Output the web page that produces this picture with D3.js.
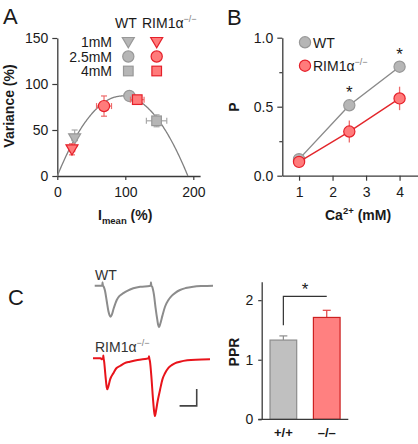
<!DOCTYPE html>
<html><head><meta charset="utf-8">
<script src="https://cdn.jsdelivr.net/npm/d3@7"></script>
<style>
html,body{margin:0;padding:0;background:#fff;}
svg{display:block;font-family:"Liberation Sans",Arial,sans-serif;}
</style></head>
<body>
<svg id="c" width="418" height="444"></svg>
<script>
// ---------- Panel A data ----------
const concLabels = ["1mM", "2.5mM", "4mM"];
const markerShapes = ["triangle", "circle", "square"];
const wtMean = [25.5, 106, 146];
const wtMeanErr = [4, 4, 15];
const wtVar = [41, 87, 60];
const wtVarErr = [9, 3, 6.5];
const rimMean = [21.6, 68.7, 117.6];
const rimMeanErr = [4, 11, 10];
const rimVar = [29, 76, 83];
const rimVarErr = [6, 11, 3];
const fitSlope = 1.8125;      // parabola fit V = a*I - b*I^2
const fitCurv = 0.00944;
const fitMaxI = 192;
const xTicksA = [0, 100, 200];
const yTicksA = [0, 50, 100, 150];

// ---------- Panel B data ----------
const caConc = [1, 2.5, 4];
const wtP = [0.12, 0.51, 0.79];
const wtPErr = [0.02, 0.02, 0.02];
const rimP = [0.10, 0.32, 0.56];
const rimPErr = [0.02, 0.08, 0.085];
const sigB = [false, true, true];
const xTicksB = [1, 2, 3, 4];
const yTicksB = [0, 0.5, 1.0];
const yMinorB = [0.25, 0.75];

// ---------- Panel C data ----------
const genotypes = ["+/+", "–/–"];
const pprMean = [1.33, 1.71];
const pprErr = [0.07, 0.12];
const yTicksC = [0, 1, 2];
// traces: [time ms, current pA]
const wtTrace = [[2,0],[10.8,0],[11.1,10],[11.6,0],[12.5,-3],[14,-15],[16,-45],[18,-75],[19.5,-88],[20.6,-91],[22,-85],[24,-68],[27.7,-42],[31,-30],[35.4,-22],[40,-15],[47,-7.6],[55,-3],[66,-1],[67.3,0],[67.6,10],[68.1,0],[69,-3],[71,-25],[73,-65],[75,-100],[76,-115],[77,-122],[78.5,-112],[81,-88],[84,-62],[88,-42],[91.8,-30],[96,-21],[101.5,-12.6],[108,-7],[117,-3],[128,-1],[140,0]];
const rimTrace = [[0,0],[9,0],[10,-3],[11,-1],[11.8,0],[12,8],[12.4,0],[13,-10],[14.5,-50],[16,-85],[16.7,-91],[18,-82],[20,-62],[23.7,-44],[27,-30],[31.5,-22.6],[37,-14],[43,-10],[52,-5],[62.7,-1],[65,0],[65.3,6],[65.7,0],[66.5,-10],[68,-50],[70,-120],[71.5,-160],[72.3,-170],[73.5,-155],[75.5,-125],[78.2,-93],[81,-62],[84,-44],[88,-28],[91.8,-20],[96,-14],[101.5,-10],[110,-6],[120,-4],[136.5,-3]];
const scaleBarMs = 20, scaleBarPA = 50;

// ---------- colors ----------
const grayFill = "#b6b6b6", grayStroke = "#989898", grayLine = "#8a8a8a", grayErr = "#a8a8a8";
const redFill = "#ff7b7b", redStroke = "#e5202a", redLine = "#e3262b", redErr = "#ee6a6a";
const axisCol = "#3a3a3a", textCol = "#1a1a1a";

const svg = d3.select("#c");
svg.append("rect").attr("width",418).attr("height",444).attr("fill","#fff");

function styleAxis(g){
  g.selectAll("path.domain").attr("stroke",axisCol).attr("stroke-width",1.3);
  g.selectAll(".tick line").attr("stroke",axisCol).attr("stroke-width",1.2);
  g.selectAll(".tick text").attr("fill",textCol).style("font-size","14px").style("font-family","Liberation Sans, Arial, sans-serif");
}
function marker(g, shape, x, y, fill, stroke){
  if(shape==="circle"){
    g.append("circle").attr("cx",x).attr("cy",y).attr("r",5.6).attr("fill",fill).attr("stroke",stroke).attr("stroke-width",1.2);
  } else if(shape==="square"){
    g.append("rect").attr("x",x-4.8).attr("y",y-4.8).attr("width",9.6).attr("height",9.6).attr("fill",fill).attr("stroke",stroke).attr("stroke-width",1.2);
  } else {
    const s=6;
    g.append("path").attr("d",`M${x-s},${y-s*0.75}L${x+s},${y-s*0.75}L${x},${y+s*0.95}Z`).attr("fill",fill).attr("stroke",stroke).attr("stroke-width",1.2);
  }
}
function errBarV(g,x,y0,y1,col,cap){
  g.append("line").attr("x1",x).attr("x2",x).attr("y1",y0).attr("y2",y1).attr("stroke",col).attr("stroke-width",1.2);
  g.append("line").attr("x1",x-cap).attr("x2",x+cap).attr("y1",y0).attr("y2",y0).attr("stroke",col).attr("stroke-width",1.2);
  g.append("line").attr("x1",x-cap).attr("x2",x+cap).attr("y1",y1).attr("y2",y1).attr("stroke",col).attr("stroke-width",1.2);
}
function errBarH(g,y,x0,x1,col,cap){
  g.append("line").attr("y1",y).attr("y2",y).attr("x1",x0).attr("x2",x1).attr("stroke",col).attr("stroke-width",1.2);
  g.append("line").attr("y1",y-cap).attr("y2",y+cap).attr("x1",x0).attr("x2",x0).attr("stroke",col).attr("stroke-width",1.2);
  g.append("line").attr("y1",y-cap).attr("y2",y+cap).attr("x1",x1).attr("x2",x1).attr("stroke",col).attr("stroke-width",1.2);
}
function rimLabel(g,x,y,size){
  const t=g.append("text").attr("x",x).attr("y",y).attr("fill",textCol).style("font-size",size+"px");
  t.append("tspan").text("RIM1α");
  t.append("tspan").attr("dy",-6).style("font-size","9px").attr("fill","#777").text("−/−");
  return t;
}

// ================= Panel A =================
const gA = svg.append("g");
const xA = d3.scaleLinear().domain([0,210]).range([57.3,200.1]);
const yA = d3.scaleLinear().domain([0,150]).range([176,38]);
gA.append("g").attr("transform","translate(0,176)")
  .call(d3.axisBottom(xA).tickValues(xTicksA).tickFormat(d3.format("d")).tickSize(4).tickSizeOuter(0).tickPadding(7)).call(styleAxis);
gA.append("g").attr("transform","translate(57.3,0)")
  .call(d3.axisLeft(yA).tickValues(yTicksA).tickFormat(d3.format("d")).tickSize(5).tickSizeOuter(0).tickPadding(4)).call(styleAxis);

// fit curve
const fitI = d3.range(0, fitMaxI+0.5, 1);
gA.append("path").datum(fitI)
  .attr("d", d3.line().x(i=>xA(i)).y(i=>yA(Math.max(0,fitSlope*i - fitCurv*i*i))))
  .attr("fill","none").attr("stroke","#808080").attr("stroke-width",1.3);

function drawSeriesA(mean, meanErr, vr, vrErr, fill, stroke, errCol){
  mean.forEach((m,k)=>{
    errBarV(gA, xA(m), yA(vr[k]-vrErr[k]), yA(vr[k]+vrErr[k]), errCol, 3);
    errBarH(gA, yA(vr[k]), xA(m-meanErr[k]), xA(m+meanErr[k]), errCol, 3);
  });
  mean.forEach((m,k)=> marker(gA, markerShapes[k], xA(m), yA(vr[k]), fill, stroke));
}
drawSeriesA(wtMean, wtMeanErr, wtVar, wtVarErr, grayFill, grayStroke, grayErr);
drawSeriesA(rimMean, rimMeanErr, rimVar, rimVarErr, redFill, redStroke, redErr);

// legend A
gA.append("text").attr("x",115).attr("y",28).attr("fill",textCol).style("font-size","14px").text("WT");
rimLabel(gA,142,28,14);
concLabels.forEach((c,k)=>{
  const y = 42 + k*14.5;
  gA.append("text").attr("x",112).attr("y",y+5).attr("text-anchor","end").attr("fill",textCol).style("font-size","14px").text(c);
  marker(gA, markerShapes[k], 128.3, y, grayFill, grayStroke);
  marker(gA, markerShapes[k], 156.7, y, redFill, redStroke);
});
// axis titles
gA.append("text").attr("transform","translate(13.5,106) rotate(-90)").attr("text-anchor","middle")
  .attr("fill",textCol).style("font-size","14px").style("font-weight","bold").text("Variance (%)");
const tA = gA.append("text").attr("x",98).attr("y",220).attr("fill",textCol).style("font-size","14px").style("font-weight","bold");
tA.append("tspan").text("I");
tA.append("tspan").attr("dy",4).style("font-size","9.5px").text("mean");
tA.append("tspan").attr("dy",-4).text(" (%)");
svg.append("text").attr("x",3).attr("y",24).attr("fill",textCol).style("font-size","22px").text("A");

// ================= Panel B =================
const gB = svg.append("g");
const xB = d3.scaleLinear().domain([0.5,4.55]).range([282.3,418]);
const yB = d3.scaleLinear().domain([0,1]).range([175.7,37.7]);
gB.append("g").attr("transform","translate(0,175.7)")
  .call(d3.axisBottom(xB).tickValues(xTicksB).tickFormat(d3.format("d")).tickSize(5).tickSizeOuter(0).tickPadding(6)).call(styleAxis);
gB.append("g").attr("transform","translate(282.3,0)")
  .call(d3.axisLeft(yB).tickValues(yTicksB).tickFormat(d3.format(".1f")).tickSize(5).tickSizeOuter(0).tickPadding(4)).call(styleAxis);
gB.append("g").attr("transform","translate(282.3,0)")
  .call(d3.axisLeft(yB).tickValues(yMinorB).tickFormat("").tickSize(3).tickSizeOuter(0)).call(styleAxis)
  .select("path.domain").remove();

function drawSeriesB(p, pErr, line, fill, stroke, errCol){
  gB.append("path").datum(caConc).attr("d", d3.line().x(c=>xB(c)).y((c,k)=>yB(p[k])))
    .attr("fill","none").attr("stroke",line).attr("stroke-width",1.4);
  caConc.forEach((c,k)=>{
    gB.append("line").attr("x1",xB(c)).attr("x2",xB(c)).attr("y1",yB(p[k]-pErr[k])).attr("y2",yB(p[k]+pErr[k]))
      .attr("stroke",errCol).attr("stroke-width",1.3);
  });
  caConc.forEach((c,k)=> marker(gB,"circle",xB(c),yB(p[k]),fill,stroke));
}
drawSeriesB(wtP, wtPErr, grayLine, grayFill, grayStroke, grayErr);
drawSeriesB(rimP, rimPErr, redLine, redFill, redStroke, redErr);
caConc.forEach((c,k)=>{
  if(sigB[k]) gB.append("text").attr("x",xB(c)).attr("y",yB(wtP[k])-7).attr("text-anchor","middle")
    .attr("fill",textCol).style("font-size","17px").text("*");
});
// legend B
marker(gB,"circle",305,42.3,grayFill,grayStroke);
gB.append("text").attr("x",313).attr("y",47.5).attr("fill",textCol).style("font-size","14px").text("WT");
marker(gB,"circle",305,65.7,redFill,redStroke);
rimLabel(gB,313,71,14);
gB.append("text").attr("transform","translate(238.5,107) rotate(-90)").attr("text-anchor","middle")
  .attr("fill",textCol).style("font-size","14px").style("font-weight","bold").text("P");
const tB = gB.append("text").attr("x",325).attr("y",220).attr("fill",textCol).style("font-size","14px").style("font-weight","bold");
tB.append("tspan").text("Ca");
tB.append("tspan").attr("dy",-6).style("font-size","9.5px").text("2+");
tB.append("tspan").attr("dy",6).text(" (mM)");
svg.append("text").attr("x",227).attr("y",25).attr("fill",textCol).style("font-size","22px").text("B");

// ================= Panel C traces =================
const gC = svg.append("g");
svg.append("text").attr("x",8).attr("y",305).attr("fill",textCol).style("font-size","22px").text("C");
const xT = d3.scaleLinear().domain([0,140]).range([93,213]);
const yWT = d3.scaleLinear().domain([-200,0]).range([285.7+68,285.7]);
const yRIM = d3.scaleLinear().domain([-200,0]).range([358.3+68,358.3]);
gC.append("path").datum(wtTrace).attr("d", d3.line().x(d=>xT(d[0])).y(d=>yWT(d[1])).curve(d3.curveMonotoneX))
  .attr("fill","none").attr("stroke","#8c8c8c").attr("stroke-width",2);
gC.append("path").datum(rimTrace).attr("d", d3.line().x(d=>xT(d[0])).y(d=>yRIM(d[1])).curve(d3.curveMonotoneX))
  .attr("fill","none").attr("stroke","#e8141b").attr("stroke-width",2);
gC.append("text").attr("x",95).attr("y",280).attr("fill","#333").style("font-size","14px").text("WT");
rimLabel(gC,95,352,14).attr("fill","#333");
// scale bar
const sbT1 = 121, sbA0 = -140;
gC.append("path")
  .attr("d",`M${xT(sbT1-scaleBarMs)},${yRIM(sbA0)}L${xT(sbT1)},${yRIM(sbA0)}L${xT(sbT1)},${yRIM(sbA0+scaleBarPA)}`)
  .attr("fill","none").attr("stroke","#444").attr("stroke-width",1.6);

// ================= Panel C bars =================
const gD = svg.append("g");
const xD = d3.scaleBand().domain(genotypes).range([258.3,351.8]).paddingInner(0.385).paddingOuter(0.27);
const yD = d3.scaleLinear().domain([0,2.31]).range([419.3,281.7]);
const barFill = ["#c0c0c0","#ff8080"], barStroke = ["#8c8c8c","#cc2020"], barErr = ["#8c8c8c","#e04040"];
genotypes.forEach((g,k)=>{
  const cx = xD(g)+xD.bandwidth()/2;
  gD.append("line").attr("x1",cx).attr("x2",cx).attr("y1",yD(pprMean[k])).attr("y2",yD(pprMean[k]+pprErr[k]))
    .attr("stroke",barErr[k]).attr("stroke-width",1.2);
  gD.append("line").attr("x1",cx-4).attr("x2",cx+4).attr("y1",yD(pprMean[k]+pprErr[k])).attr("y2",yD(pprMean[k]+pprErr[k]))
    .attr("stroke",barErr[k]).attr("stroke-width",1.2);
  gD.append("rect").attr("x",xD(g)).attr("y",yD(pprMean[k])).attr("width",xD.bandwidth()).attr("height",yD(0)-yD(pprMean[k]))
    .attr("fill",barFill[k]).attr("stroke",barStroke[k]).attr("stroke-width",1.2);
});
gD.append("g").attr("transform","translate(261.7,0)")
  .call(d3.axisLeft(yD).tickValues(yTicksC).tickFormat(d3.format("d")).tickSize(3.5).tickSizeOuter(0).tickPadding(5)).call(styleAxis);
gD.append("line").attr("x1",258.3).attr("x2",348.3).attr("y1",419.3).attr("y2",419.3).attr("stroke",axisCol).attr("stroke-width",1.3);
genotypes.forEach((g,k)=>{
  gD.append("text").attr("x",xD(g)+xD.bandwidth()/2).attr("y",437).attr("text-anchor","middle")
    .attr("fill",textCol).style("font-size","13px").style("font-weight","bold").text(g);
});
// significance bracket
const c0 = xD(genotypes[0])+xD.bandwidth()/2, c1 = xD(genotypes[1])+xD.bandwidth()/2;
gD.append("path").attr("d",`M${c0},${yD(1.58)}L${c0},${yD(2.065)}L${c1},${yD(2.065)}`)
  .attr("fill","none").attr("stroke","#333").attr("stroke-width",1.2);
gD.append("text").attr("x",(c0+c1)/2).attr("y",yD(2.065)-1).attr("text-anchor","middle")
  .attr("fill",textCol).style("font-size","17px").text("*");
gD.append("text").attr("transform","translate(238.5,352) rotate(-90)").attr("text-anchor","middle")
  .attr("fill",textCol).style("font-size","14px").style("font-weight","bold").text("PPR");
</script>
</body></html>
